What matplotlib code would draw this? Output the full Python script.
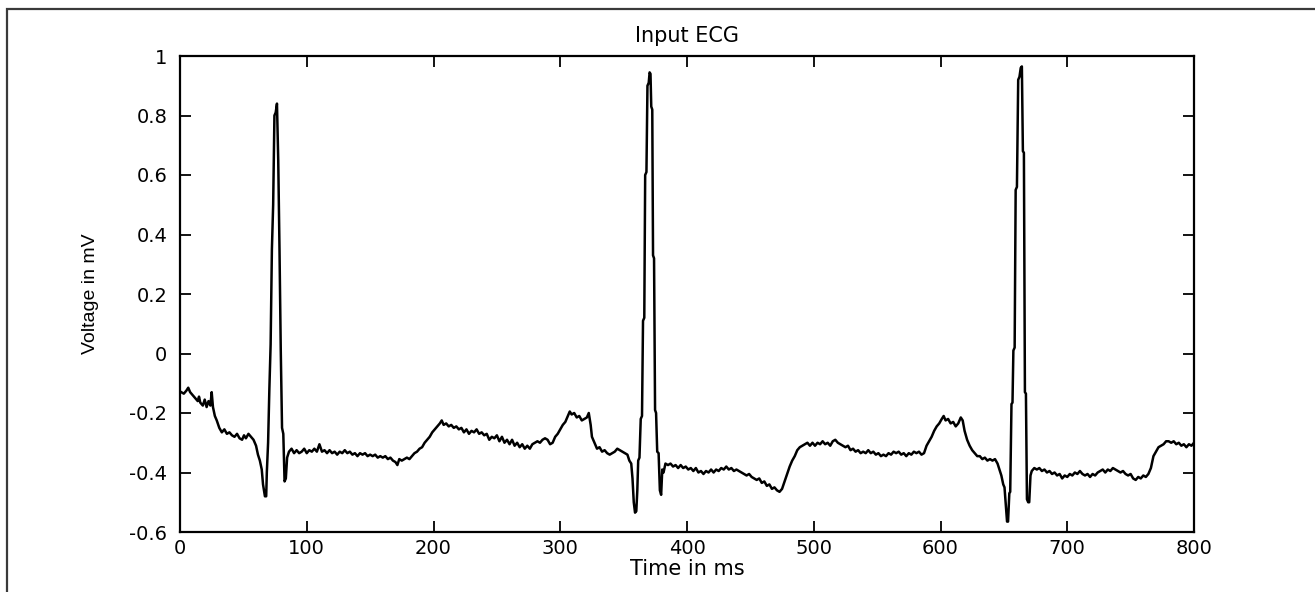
import matplotlib
matplotlib.use("Agg")
import matplotlib.pyplot as plt
from matplotlib.patches import Rectangle

# ECG trace (time in ms, voltage in mV)
time_ms = [
    1, 3, 5, 6.5, 8, 10, 12, 14, 15, 16, 18, 19.5, 21, 22.5, 24, 25, 26, 27.5, 29, 31,
    33, 35, 37, 39, 41, 43, 45, 47, 49, 50.5, 52, 54, 56, 58, 60, 61.5, 63, 64.5, 65.5, 67,
    68, 68.5, 69.5, 70.5, 71.5, 72.5, 73.5, 74.5, 75.5, 76.5, 77.5, 78.5, 79.5, 80.5, 81.5, 82.5, 83.5, 84.5, 86, 88,
    90, 92, 94, 96, 98, 100, 102, 104, 106, 108, 110, 112, 114, 116, 118, 120, 122, 124, 126, 128,
    130, 132, 134, 136, 138, 140, 142, 144, 146, 148, 150, 152, 154, 156, 158, 160, 162, 164, 166, 168,
    170, 171.5, 173, 175, 177, 179, 181, 183, 185, 187, 189, 191, 193, 195, 197, 199, 201, 203, 205, 206.5,
    208, 210, 212, 214, 216, 218, 220, 222, 224, 226, 228, 230, 232, 234, 236, 238, 240, 242, 244, 246,
    248, 250, 252, 254, 256, 258, 260, 262, 264, 266, 268, 270, 272, 274, 276, 278, 280, 282, 284, 286,
    288, 290, 292, 294, 296, 298, 300, 302, 304, 306, 307.5, 309, 311, 313, 315, 317, 319, 321, 322.5, 324,
    325, 327, 329, 331, 333, 335, 337, 339, 341, 343, 345, 347, 349, 351, 353, 354.5, 356, 357, 358, 359,
    360, 360.8, 361.5, 362.5, 363.5, 364.5, 365.3, 366.3, 367, 368, 368.8, 369.8, 370.5, 371.2, 371.8, 372.6, 373.2, 374, 374.8, 375.6,
    376.5, 377.6, 378.6, 379.6, 380.5, 381.5, 383, 385, 387, 389, 391, 393, 395, 397, 399, 401, 403, 405, 407, 409,
    411, 413, 415, 417, 419, 421, 423, 425, 427, 429, 431, 433, 435, 437, 439, 441, 443, 445, 447, 449,
    451, 453, 455, 457, 459, 461, 463, 465, 467, 469, 471, 473, 475, 477, 479, 481, 483, 485, 487, 489,
    491, 493, 495, 497, 499, 501, 503, 505, 507, 509, 511, 513, 515, 517, 519, 521, 523, 525, 527, 529,
    531, 533, 535, 537, 539, 541, 543, 545, 547, 549, 551, 553, 555, 557, 559, 561, 563, 565, 567, 569,
    571, 573, 575, 577, 579, 581, 583, 585, 587, 589, 591, 593, 595, 597, 599, 601, 602.5, 604, 606, 608,
    610, 612, 614, 616, 617.5, 619, 621, 623, 625, 627, 629, 631, 633, 635, 637, 639, 641, 643, 645, 646.5,
    648, 649.5, 650.5, 651.5, 652.5, 653.3, 654.3, 655, 656, 656.8, 657.5, 658.5, 659.3, 660.3, 661.3, 662.3, 663.3, 664.2, 665, 665.8,
    666.6, 667.4, 668.2, 669.2, 670, 671, 672, 674, 676, 678, 680, 682, 684, 686, 688, 690, 692, 694, 696, 698,
    700, 702, 704, 706, 708, 710, 712, 714, 716, 718, 720, 722, 724, 726, 728, 730, 732, 734, 736, 738,
    740, 742, 744, 746, 748, 750, 752, 754, 756, 758, 760, 762, 764, 766, 768, 770, 772, 774, 776, 778,
    780, 782, 784, 786, 788, 790, 792, 794, 796, 798, 800,
]
voltage_mv = [
    -0.13, -0.135, -0.125, -0.115, -0.13, -0.14, -0.15, -0.16, -0.145, -0.165, -0.175, -0.155, -0.18, -0.16, -0.175, -0.13, -0.18, -0.21, -0.225, -0.25,
    -0.265, -0.255, -0.27, -0.265, -0.275, -0.28, -0.27, -0.285, -0.29, -0.275, -0.285, -0.27, -0.28, -0.29, -0.31, -0.34, -0.36, -0.39, -0.44, -0.48,
    -0.48, -0.40, -0.30, -0.12, 0.03, 0.35, 0.50, 0.80, 0.81, 0.84, 0.65, 0.35, 0.01, -0.25, -0.27, -0.43, -0.42, -0.35, -0.33, -0.32,
    -0.335, -0.325, -0.335, -0.33, -0.32, -0.335, -0.325, -0.33, -0.32, -0.33, -0.305, -0.33, -0.325, -0.335, -0.325, -0.335, -0.33, -0.34, -0.33, -0.335,
    -0.325, -0.335, -0.33, -0.34, -0.335, -0.345, -0.335, -0.34, -0.335, -0.345, -0.34, -0.345, -0.34, -0.35, -0.345, -0.35, -0.345, -0.355, -0.35, -0.36,
    -0.365, -0.375, -0.355, -0.36, -0.355, -0.35, -0.355, -0.345, -0.335, -0.33, -0.32, -0.315, -0.30, -0.29, -0.28, -0.265, -0.255, -0.245, -0.235, -0.225,
    -0.24, -0.235, -0.245, -0.24, -0.25, -0.245, -0.255, -0.25, -0.265, -0.255, -0.27, -0.26, -0.265, -0.255, -0.27, -0.265, -0.275, -0.27, -0.29, -0.28,
    -0.285, -0.275, -0.295, -0.28, -0.30, -0.29, -0.305, -0.29, -0.31, -0.30, -0.315, -0.305, -0.32, -0.31, -0.32, -0.305, -0.30, -0.295, -0.30, -0.29,
    -0.285, -0.29, -0.305, -0.30, -0.28, -0.27, -0.255, -0.24, -0.23, -0.21, -0.195, -0.205, -0.20, -0.215, -0.21, -0.225, -0.22, -0.215, -0.20, -0.24,
    -0.28, -0.30, -0.32, -0.315, -0.33, -0.325, -0.335, -0.34, -0.335, -0.33, -0.32, -0.325, -0.33, -0.335, -0.34, -0.36, -0.37, -0.42, -0.50, -0.535,
    -0.53, -0.46, -0.36, -0.35, -0.22, -0.21, 0.11, 0.12, 0.60, 0.61, 0.90, 0.91, 0.945, 0.94, 0.83, 0.82, 0.33, 0.32, -0.19, -0.20,
    -0.33, -0.335, -0.46, -0.475, -0.39, -0.40, -0.37, -0.375, -0.37, -0.38, -0.375, -0.385, -0.375, -0.385, -0.38, -0.39, -0.385, -0.395, -0.385, -0.40,
    -0.395, -0.405, -0.395, -0.40, -0.39, -0.40, -0.39, -0.395, -0.385, -0.39, -0.38, -0.39, -0.385, -0.395, -0.39, -0.395, -0.40, -0.405, -0.41, -0.405,
    -0.415, -0.42, -0.425, -0.42, -0.435, -0.43, -0.445, -0.44, -0.455, -0.45, -0.46, -0.465, -0.455, -0.43, -0.405, -0.38, -0.36, -0.345, -0.325, -0.315,
    -0.31, -0.305, -0.30, -0.31, -0.30, -0.31, -0.30, -0.305, -0.295, -0.305, -0.30, -0.31, -0.295, -0.29, -0.30, -0.305, -0.31, -0.315, -0.31, -0.325,
    -0.32, -0.33, -0.325, -0.335, -0.33, -0.335, -0.325, -0.335, -0.33, -0.34, -0.335, -0.345, -0.34, -0.345, -0.335, -0.34, -0.33, -0.335, -0.33, -0.34,
    -0.335, -0.345, -0.335, -0.34, -0.33, -0.335, -0.33, -0.34, -0.335, -0.31, -0.295, -0.28, -0.26, -0.245, -0.235, -0.22, -0.21, -0.225, -0.22, -0.235,
    -0.23, -0.245, -0.235, -0.215, -0.225, -0.26, -0.29, -0.31, -0.325, -0.335, -0.345, -0.345, -0.355, -0.35, -0.36, -0.355, -0.36, -0.355, -0.37, -0.39,
    -0.41, -0.44, -0.45, -0.51, -0.565, -0.565, -0.47, -0.465, -0.17, -0.165, 0.01, 0.02, 0.55, 0.56, 0.92, 0.93, 0.96, 0.965, 0.68, 0.675,
    -0.13, -0.135, -0.49, -0.50, -0.50, -0.41, -0.395, -0.385, -0.39, -0.385, -0.395, -0.39, -0.40, -0.395, -0.405, -0.40, -0.41, -0.405, -0.42, -0.41,
    -0.415, -0.405, -0.41, -0.40, -0.405, -0.395, -0.405, -0.41, -0.405, -0.415, -0.405, -0.41, -0.40, -0.395, -0.39, -0.40, -0.39, -0.395, -0.385, -0.39,
    -0.395, -0.40, -0.395, -0.405, -0.41, -0.405, -0.42, -0.425, -0.415, -0.42, -0.41, -0.415, -0.405, -0.385, -0.345, -0.33, -0.315, -0.31, -0.305, -0.295,
    -0.295, -0.30, -0.295, -0.305, -0.30, -0.31, -0.305, -0.315, -0.305, -0.31, -0.30,
]

x_ticks = [0, 100, 200, 300, 400, 500, 600, 700, 800]
y_ticks = [-0.6, -0.4, -0.2, 0, 0.2, 0.4, 0.6, 0.8, 1]
y_tick_labels = ["-0.6", "-0.4", "-0.2", "0", "0.2", "0.4", "0.6", "0.8", "1"]

fig = plt.figure(figsize=(13.15, 5.92), dpi=100)
ax = fig.add_axes([180 / 1315, 1 - 532 / 592, (1194 - 180) / 1315, (532 - 56) / 592])

ax.plot(time_ms, voltage_mv, color="black", linewidth=1.8)

ax.set_xlim(0, 800)
ax.set_ylim(-0.6, 1)
ax.set_xticks(x_ticks)
ax.set_xticklabels([str(t) for t in x_ticks])
ax.set_yticks(y_ticks)
ax.set_yticklabels(y_tick_labels)
ax.tick_params(direction="in", top=True, right=True, length=8, width=1.3,
               labelsize=14, colors="black")
ax.tick_params(axis="x", pad=5)
ax.tick_params(axis="y", pad=9)
for s in ax.spines.values():
    s.set_linewidth(1.6)

ax.set_title("Input ECG", fontsize=15, pad=10)
ax.set_xlabel("Time in ms", fontsize=15, labelpad=1)
ax.set_ylabel("Voltage in mV", fontsize=14, family=["Liberation Sans"], labelpad=22)

# outer frame of the original screenshot
fig.patches.append(Rectangle((7 / 1315, -0.1), 1.2, 1.1 - 9 / 592,
                             transform=fig.transFigure, fill=False,
                             edgecolor="#3a3a3a", linewidth=1.6))

fig.savefig("out.png", dpi=100)
